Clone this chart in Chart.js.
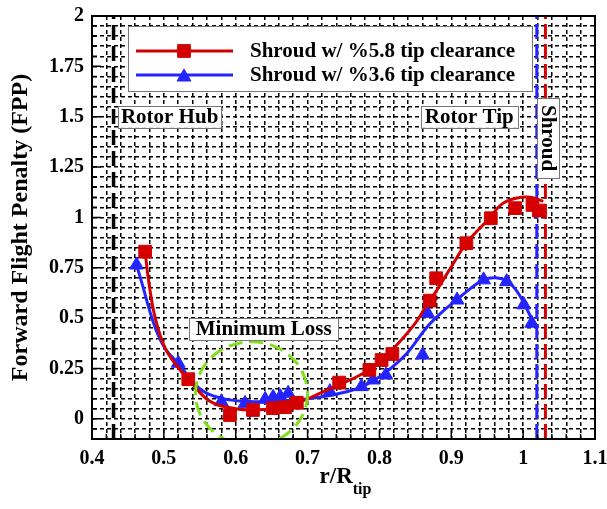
<!DOCTYPE html>
<html>
<head>
<meta charset="utf-8">
<title>Forward Flight Penalty</title>
<script src="https://cdn.jsdelivr.net/npm/chart.js@4.4.0/dist/chart.umd.min.js"></script>
<style>
  html, body { margin: 0; padding: 0; background: #fff; }
  #wrap { width: 607px; height: 509px; }
</style>
</head>
<body>
<div id="wrap"><canvas id="fppChart" width="607" height="509"></canvas></div>
<script>
// 5.8% tip clearance - measured points
var clear58X = [0.474, 0.534, 0.592, 0.624, 0.652, 0.669, 0.685, 0.744, 0.786, 0.803, 0.818, 0.870, 0.879, 0.921, 0.955, 0.989, 1.013, 1.022];
var clear58Y = [0.830, 0.197, 0.019, 0.044, 0.053, 0.058, 0.080, 0.180, 0.243, 0.292, 0.322, 0.587, 0.698, 0.872, 0.996, 1.046, 1.062, 1.034];
// 5.8% tip clearance - smoothed curve
var fit58X = [0.474, 0.479, 0.488, 0.502, 0.521, 0.534, 0.563, 0.600, 0.630, 0.660, 0.690, 0.716, 0.744, 0.772, 0.800, 0.825, 0.850, 0.865, 0.880, 0.900, 0.921, 0.950, 0.970, 0.990, 1.010, 1.028];
var fit58Y = [0.830, 0.680, 0.500, 0.350, 0.250, 0.200, 0.090, 0.050, 0.045, 0.055, 0.085, 0.125, 0.170, 0.215, 0.280, 0.370, 0.475, 0.560, 0.640, 0.755, 0.872, 0.985, 1.065, 1.095, 1.100, 1.080];

// 3.6% tip clearance - measured points
var clear36X = [0.462, 0.520, 0.580, 0.613, 0.641, 0.652, 0.662, 0.673, 0.731, 0.775, 0.791, 0.809, 0.860, 0.867, 0.908, 0.945, 0.977, 1.001, 1.012];
var clear36Y = [0.764, 0.276, 0.085, 0.077, 0.097, 0.107, 0.110, 0.127, 0.135, 0.160, 0.193, 0.218, 0.317, 0.524, 0.590, 0.690, 0.681, 0.566, 0.475];
// 3.6% tip clearance - smoothed curve
var fit36X = [0.462, 0.471, 0.480, 0.491, 0.503, 0.520, 0.549, 0.579, 0.620, 0.655, 0.690, 0.718, 0.745, 0.776, 0.807, 0.838, 0.866, 0.887, 0.908, 0.927, 0.945, 0.962, 0.978, 0.990, 1.001, 1.016];
var fit36Y = [0.764, 0.655, 0.540, 0.425, 0.342, 0.276, 0.152, 0.103, 0.086, 0.088, 0.095, 0.108, 0.127, 0.160, 0.227, 0.325, 0.455, 0.530, 0.592, 0.648, 0.690, 0.700, 0.683, 0.640, 0.575, 0.465];

var xTickLabels = [0.4, 0.5, 0.6, 0.7, 0.8, 0.9, 1, 1.1];
var yTickLabels = [0, 0.25, 0.5, 0.75, 1, 1.25, 1.5, 1.75, 2];

// reference lines (r/Rtip)
var hubX = 0.43;
var shroud36X = 1.019;
var shroud58X = 1.031;

var RED = '#d40000';
var BLUE = '#2424ff';
var GREEN = '#80e020';
var FONT = "'Liberation Serif', 'Times New Roman', serif";

function zip(xs, ys) {
    return xs.map(function(x, i) { return { x: x, y: ys[i] }; });
}

// grid ticks every step, labels only where listed
function gridTicks(min, max, step) {
    var out = [];
    var n = Math.round((max - min) / step);
    for (var i = 0; i <= n; i++) {
        out.push({ value: Math.round((min + i * step) * 10000) / 10000 });
    }
    return out;
}

function tickText(v, labels) {
    for (var i = 0; i < labels.length; i++) {
        if (Math.abs(labels[i] - v) < 1e-6) return String(labels[i]);
    }
    return '';
}

function textBox(ctx, text, cx, cy, w, h, vertical) {
    ctx.save();
    ctx.fillStyle = '#fff';
    ctx.fillRect(cx - w / 2, cy - h / 2, w, h);
    ctx.strokeStyle = '#777';
    ctx.lineWidth = 1;
    ctx.strokeRect(Math.round(cx - w / 2) + 0.5, Math.round(cy - h / 2) + 0.5, w, h);
    ctx.translate(cx, cy);
    if (vertical) ctx.rotate(Math.PI / 2);
    ctx.fillStyle = '#000';
    ctx.font = 'bold 21px ' + FONT;
    ctx.textAlign = 'center';
    ctx.textBaseline = 'middle';
    ctx.fillText(text, 0, 1);
    ctx.restore();
}

function vline(ctx, area, px, color, width, dash) {
    ctx.save();
    ctx.beginPath();
    ctx.rect(area.left, area.top, area.right - area.left, area.bottom - area.top);
    ctx.clip();
    ctx.strokeStyle = color;
    ctx.lineWidth = width;
    ctx.setLineDash(dash);
    ctx.beginPath();
    ctx.moveTo(px, area.bottom);
    ctx.lineTo(px, area.top);
    ctx.stroke();
    ctx.restore();
}

var decorations = {
    id: 'decorations',
    beforeDatasetsDraw: function(chart) {
        var ctx = chart.ctx, area = chart.chartArea;
        var xs = chart.scales.x, ys = chart.scales.y;
        vline(ctx, area, xs.getPixelForValue(hubX), '#000', 3.5, [15, 6]);
        vline(ctx, area, xs.getPixelForValue(shroud58X), RED, 3, [15, 5]);
        vline(ctx, area, xs.getPixelForValue(shroud36X), BLUE, 3, [15, 5]);

        // inward tick marks on bottom and left axes
        ctx.save();
        ctx.strokeStyle = '#000';
        ctx.lineWidth = 1.5;
        ctx.beginPath();
        xs.ticks.forEach(function(t) {
            var px = xs.getPixelForValue(t.value);
            var len = tickText(t.value, xTickLabels) ? 9 : 5;
            ctx.moveTo(px, area.bottom);
            ctx.lineTo(px, area.bottom - len);
        });
        ys.ticks.forEach(function(t) {
            var py = ys.getPixelForValue(t.value);
            var len = tickText(t.value, yTickLabels) ? 9 : 5;
            ctx.moveTo(area.left, py);
            ctx.lineTo(area.left + len, py);
        });
        ctx.stroke();
        ctx.restore();
    },
    afterDatasetsDraw: function(chart) {
        var ctx = chart.ctx, area = chart.chartArea;
        var xs = chart.scales.x, ys = chart.scales.y;

        // minimum loss ring
        ctx.save();
        ctx.beginPath();
        ctx.rect(area.left, area.top, area.right - area.left, area.bottom - area.top);
        ctx.clip();
        var cx = xs.getPixelForValue(0.622), cy = ys.getPixelForValue(0.125);
        var rx = xs.getPixelForValue(0.622 + 0.078) - cx;
        var ry = cy - ys.getPixelForValue(0.125 + 0.258);
        ctx.strokeStyle = GREEN;
        ctx.lineWidth = 3;
        ctx.setLineDash([14, 7]);
        ctx.beginPath();
        ctx.ellipse(cx, cy, rx, ry, 0, 0, Math.PI * 2);
        ctx.stroke();
        ctx.restore();

        textBox(ctx, 'Rotor Hub', xs.getPixelForValue(0.508), ys.getPixelForValue(1.5), 103, 22);
        textBox(ctx, 'Rotor Tip', xs.getPixelForValue(0.925), ys.getPixelForValue(1.5), 97, 22);
        textBox(ctx, 'Minimum Loss', xs.getPixelForValue(0.639), ys.getPixelForValue(0.446), 149, 22);
        textBox(ctx, 'Shroud', 548, ys.getPixelForValue(1.394), 22, 80, true);

        // legend
        var lx = area.left + 36, ly = area.top + 10;
        ctx.save();
        ctx.fillStyle = '#fff';
        ctx.fillRect(lx, ly, 404, 65);
        ctx.strokeStyle = '#777';
        ctx.lineWidth = 1;
        ctx.strokeRect(lx + 0.5, ly + 0.5, 404, 65);
        var rows = [
            { color: RED, style: 'rect', r: 9, text: 'Shroud w/ %5.8 tip clearance', y: ly + 25 },
            { color: BLUE, style: 'triangle', r: 8, text: 'Shroud w/ %3.6 tip clearance', y: ly + 49 }
        ];
        rows.forEach(function(row) {
            ctx.strokeStyle = row.color;
            ctx.lineWidth = 3;
            ctx.beginPath();
            ctx.moveTo(lx + 8, row.y);
            ctx.lineTo(lx + 105, row.y);
            ctx.stroke();
            ctx.fillStyle = row.color;
            ctx.lineWidth = 1;
            Chart.helpers.drawPoint(ctx, { pointStyle: row.style, radius: row.r, rotation: 0, borderWidth: 1 },
                lx + 56, row.y + (row.style === 'triangle' ? 2 : 0));
            ctx.fillStyle = '#000';
            ctx.font = 'bold 21px ' + FONT;
            ctx.textAlign = 'left';
            ctx.textBaseline = 'middle';
            ctx.fillText(row.text, lx + 122, row.y + 1);
        });
        ctx.restore();
    },
    afterDraw: function(chart) {
        var ctx = chart.ctx, area = chart.chartArea;
        ctx.save();
        // frame
        ctx.strokeStyle = '#000';
        ctx.lineWidth = 2;
        ctx.strokeRect(area.left, area.top, area.right - area.left, area.bottom - area.top);

        // y title
        ctx.fillStyle = '#000';
        ctx.font = 'bold 24px ' + FONT;
        ctx.textAlign = 'center';
        ctx.textBaseline = 'middle';
        ctx.translate(21, (area.top + area.bottom) / 2);
        ctx.rotate(-Math.PI / 2);
        ctx.fillText('Forward Flight Penalty (FPP)', 0, 0);
        ctx.restore();

        // x title r/R with subscript
        ctx.save();
        ctx.fillStyle = '#000';
        ctx.textBaseline = 'alphabetic';
        ctx.textAlign = 'left';
        ctx.font = 'bold 23px ' + FONT;
        var w1 = ctx.measureText('r/R').width;
        ctx.font = 'bold 16px ' + FONT;
        var w2 = ctx.measureText('tip').width;
        var x0 = (area.left + area.right) / 2 + 2 - (w1 + w2) / 2;
        ctx.font = 'bold 23px ' + FONT;
        ctx.fillText('r/R', x0, 483);
        ctx.font = 'bold 16px ' + FONT;
        ctx.fillText('tip', x0 + w1, 494);
        ctx.restore();
    }
};

var ctx = document.getElementById('fppChart').getContext('2d');

var config = {
    type: 'scatter',
    data: {
        datasets: [{
            label: 'fit 5.8',
            data: zip(fit58X, fit58Y),
            showLine: true,
            borderColor: RED,
            borderWidth: 3,
            pointRadius: 0,
            tension: 0.4
        }, {
            label: 'Shroud w/ %5.8 tip clearance',
            data: zip(clear58X, clear58Y),
            showLine: false,
            pointStyle: 'rect',
            pointRadius: 9,
            backgroundColor: RED,
            borderColor: RED,
            borderWidth: 1
        }, {
            label: 'fit 3.6',
            data: zip(fit36X, fit36Y),
            showLine: true,
            borderColor: BLUE,
            borderWidth: 3,
            pointRadius: 0,
            tension: 0.4
        }, {
            label: 'Shroud w/ %3.6 tip clearance',
            data: zip(clear36X, clear36Y),
            showLine: false,
            pointStyle: 'triangle',
            pointRadius: 8,
            backgroundColor: BLUE,
            borderColor: BLUE,
            borderWidth: 1
        }]
    },
    options: {
        responsive: false,
        animation: false,
        devicePixelRatio: 1,
        layout: { padding: { top: 16, right: 12, left: 0, bottom: 0 } },
        plugins: {
            legend: { display: false },
            tooltip: { enabled: false }
        },
        scales: {
            x: {
                type: 'linear',
                min: 0.4,
                max: 1.1,
                afterBuildTicks: function(s) { s.ticks = gridTicks(0.4, 1.1, 0.02); },
                afterFit: function(s) { s.height = 70; s.paddingLeft = 0; s.paddingRight = 0; },
                ticks: {
                    autoSkip: false,
                    maxRotation: 0,
                    padding: 8,
                    color: '#000',
                    font: { family: FONT, size: 20, weight: 'bold' },
                    callback: function(v) { return tickText(v, xTickLabels); }
                },
                grid: { color: '#000', lineWidth: 1.5, drawTicks: false },
                border: { display: true, color: '#000', width: 2, dash: [4, 3] }
            },
            y: {
                type: 'linear',
                min: -0.1,
                max: 2,
                afterBuildTicks: function(s) { s.ticks = gridTicks(-0.1, 2, 0.05); },
                afterFit: function(s) { s.width = 92; s.paddingTop = 0; s.paddingBottom = 0; },
                ticks: {
                    autoSkip: false,
                    padding: 8,
                    color: '#000',
                    font: { family: FONT, size: 20, weight: 'bold' },
                    callback: function(v) { return tickText(v, yTickLabels); }
                },
                grid: { color: '#000', lineWidth: 1.5, drawTicks: false },
                border: { display: true, color: '#000', width: 2, dash: [4, 3] }
            }
        }
    },
    plugins: [decorations]
};

var fppChart = new Chart(ctx, config);
</script>
</body>
</html>
